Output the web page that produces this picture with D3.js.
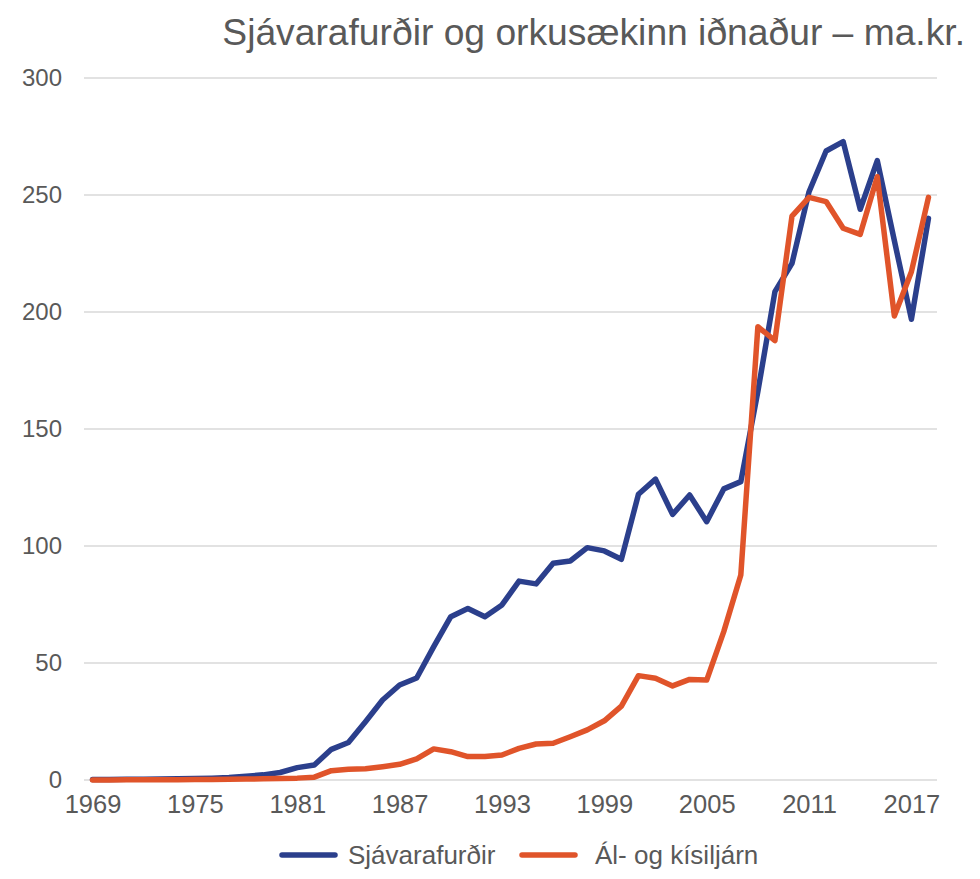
<!DOCTYPE html>
<html><head><meta charset="utf-8">
<script src="https://cdn.jsdelivr.net/npm/d3@7"></script>
<style>body{margin:0;background:#fff}svg{display:block}text{font-family:"Liberation Sans",Arial,sans-serif;fill:#595959}</style>
</head><body>
<script>
const years = d3.range(1969, 2019);
const seafood = [0.2,0.2,0.3,0.3,0.4,0.5,0.6,0.8,1.1,1.6,2.2,3.2,5.3,6.4,13.1,16.0,24.9,34.2,40.6,43.6,57.0,69.8,73.3,69.8,74.8,85.0,83.8,92.6,93.6,99.3,97.9,94.3,122.1,128.6,113.5,121.8,110.4,124.4,127.5,166,208.7,220.8,251.4,268.8,272.8,243.9,264.7,230.5,196.9,240.0];
const aluminium = [0.05,0.05,0.1,0.1,0.1,0.15,0.2,0.25,0.3,0.4,0.5,0.6,0.8,1.2,4.0,4.6,4.8,5.7,6.7,9.0,13.3,12.1,10.0,10.0,10.7,13.5,15.4,15.7,18.5,21.4,25.3,31.6,44.6,43.5,40.2,43.0,42.7,63.4,87.6,193.7,187.8,241.0,249.0,247.2,235.8,233.2,257.8,198.3,217.2,249.0];
const yTicks = [0,50,100,150,200,250,300];
const xTickYears = [1969,1975,1981,1987,1993,1999,2005,2011,2017];
const seriesNames = ["Sjávarafurðir","Ál- og kísiljárn"];
const colors = ["#2B3F8C","#E0542A"];
const title = "Sjávarafurðir og orkusækinn iðnaður – ma.kr.";

const W=980,H=879;
const svg=d3.select("body").append("svg").attr("width",W).attr("height",H);
const x=d3.scalePoint().domain(years).range([84,937]).padding(0.5);
const y=d3.scaleLinear().domain([0,300]).range([780,78]);

// grid
svg.append("g").selectAll("line").data(yTicks).join("line")
 .attr("x1",84).attr("x2",937).attr("y1",d=>y(d)).attr("y2",d=>y(d))
 .attr("stroke","#d9d9d9").attr("stroke-width",1.5);

// y axis
const ya=svg.append("g").attr("transform","translate(84,0)")
 .call(d3.axisLeft(y).tickValues(yTicks).tickSize(0).tickPadding(22));
ya.select(".domain").remove();
ya.selectAll("text").attr("font-size",24).attr("fill","#595959").style("font-family","Liberation Sans, Arial, sans-serif");

// x axis
const xa=svg.append("g").attr("transform","translate(0,780)")
 .call(d3.axisBottom(x).tickValues(xTickYears).tickSize(0).tickPadding(15));
xa.select(".domain").remove();
xa.selectAll("text").attr("font-size",25.5).attr("fill","#595959").style("font-family","Liberation Sans, Arial, sans-serif");

// lines
const line=d3.line().x((d,i)=>x(years[i])).y(d=>y(d));
[seafood,aluminium].forEach((s,k)=>{
 svg.append("path").datum(s).attr("d",line).attr("fill","none")
  .attr("stroke",colors[k]).attr("stroke-width",5.5).attr("stroke-linejoin","round").attr("stroke-linecap","round");
});

// title
const t=svg.append("text").attr("x",965).attr("y",45).attr("text-anchor","end").attr("font-size",36).text(title);
const tl=t.node().getComputedTextLength();
t.attr("font-size",36*743/tl);

// legend
const leg=[{x1:282,x2:335,tx:348},{x1:522,x2:575,tx:595}];
leg.forEach((L,k)=>{
 svg.append("line").attr("x1",L.x1).attr("x2",L.x2).attr("y1",855).attr("y2",855)
  .attr("stroke",colors[k]).attr("stroke-width",5.5).attr("stroke-linecap","round");
 svg.append("text").attr("x",L.tx).attr("y",855).attr("dy","0.35em").attr("font-size",26).text(seriesNames[k]);
});
</script>
</body></html>
